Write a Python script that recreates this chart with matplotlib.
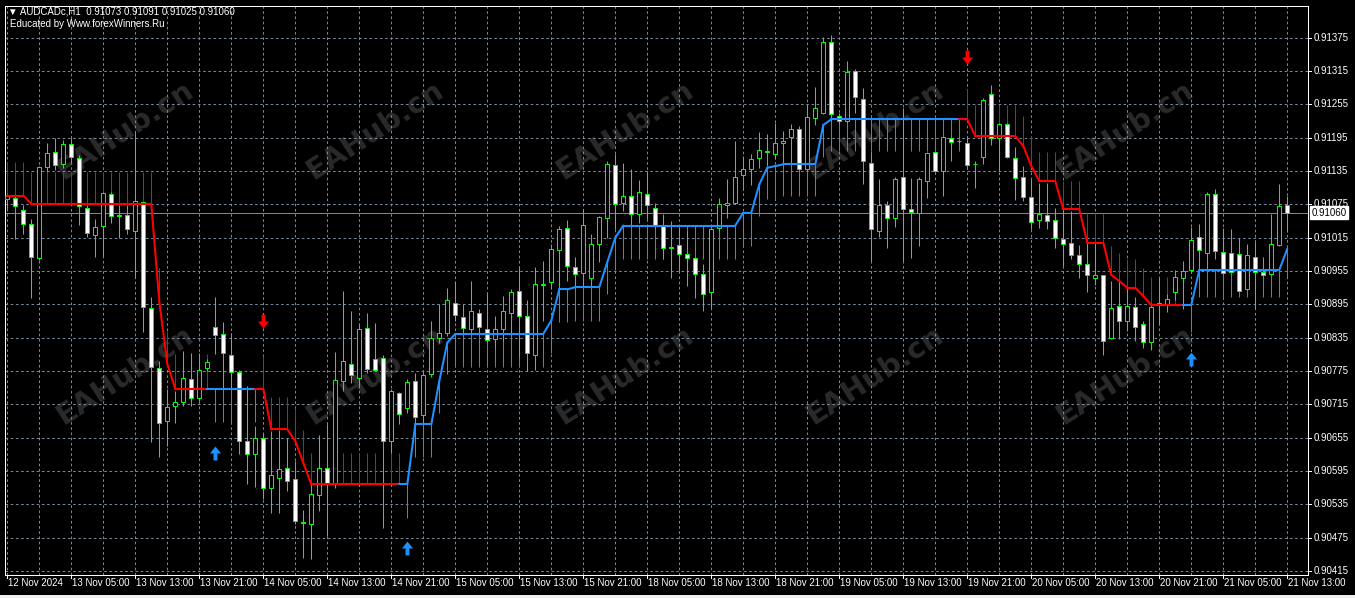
import matplotlib
matplotlib.use('Agg')
import matplotlib.pyplot as plt
import numpy as np
from matplotlib.patches import Rectangle
from matplotlib.path import Path
from matplotlib.collections import LineCollection
from matplotlib.transforms import blended_transform_factory

# ---------------- data ----------------
header_line = "\u25BC AUDCADc,H1  0.91073 0.91091 0.91025 0.91060"
educated_line = "Educated by Www.forexWinners.Ru"
watermark = "EAHub.cn"

opens = [
    0.91085, 0.91087, 0.91065, 0.91040, 0.90978, 0.91142, 0.91170, 0.91148, 0.91184, 0.91158,
    0.91068, 0.91020, 0.91036, 0.91094, 0.91056, 0.91056, 0.91028, 0.91079, 0.90888, 0.90780,
    0.90686, 0.90713, 0.90719, 0.90760, 0.90727, 0.90780, 0.90855, 0.90841, 0.90803, 0.90774,
    0.90650, 0.90626, 0.90654, 0.90564, 0.90583, 0.90600, 0.90580, 0.90503, 0.90499, 0.90552,
    0.90600, 0.90573, 0.90757, 0.90788, 0.90763, 0.90853, 0.90796, 0.90799, 0.90650, 0.90736,
    0.90708, 0.90757, 0.90695, 0.90769, 0.90834, 0.90843, 0.90898, 0.90873, 0.90850, 0.90880,
    0.90851, 0.90832, 0.90851, 0.90879, 0.90919, 0.90875, 0.90804, 0.90930, 0.90935, 0.90993,
    0.91033, 0.90962, 0.90951, 0.90943, 0.91004, 0.91051, 0.91146, 0.91078, 0.91090, 0.91057,
    0.91094, 0.91068, 0.91036, 0.90999, 0.91001, 0.90985, 0.90978, 0.90949, 0.90918, 0.91032,
    0.91073, 0.91078, 0.91127, 0.91138, 0.91158, 0.91170, 0.91166, 0.91185, 0.91197, 0.91211,
    0.91138, 0.91231, 0.91240, 0.91368, 0.91234, 0.91225, 0.91316, 0.91264, 0.91150, 0.91028,
    0.91074, 0.91051, 0.91125, 0.91067, 0.91059, 0.91118, 0.91170, 0.91136, 0.91195, 0.91189,
    0.91186, 0.91147, 0.91160, 0.91273, 0.91195, 0.91220, 0.91159, 0.91125, 0.91089, 0.91046,
    0.91055, 0.91046, 0.91012, 0.91005, 0.90984, 0.90967, 0.90943, 0.90947, 0.90834, 0.90892,
    0.90865, 0.90891, 0.90859, 0.90827, 0.90895, 0.90895, 0.90917, 0.90943, 0.90957, 0.91016,
    0.90988, 0.91094, 0.90989, 0.90987, 0.90985, 0.90923, 0.90980, 0.90953, 0.90950, 0.91002,
    0.91073]
highs = [
    0.91094, 0.91090, 0.91074, 0.91049, 0.91145, 0.91186, 0.91195, 0.91190, 0.91195, 0.91164,
    0.91074, 0.91049, 0.91098, 0.91098, 0.91074, 0.91074, 0.91206, 0.91080, 0.90909, 0.90793,
    0.90742, 0.90740, 0.90811, 0.90808, 0.90808, 0.90796, 0.90908, 0.90863, 0.90843, 0.90777,
    0.90749, 0.90676, 0.90661, 0.90667, 0.90668, 0.90655, 0.90613, 0.90524, 0.90571, 0.90660,
    0.90679, 0.90809, 0.90919, 0.90883, 0.90859, 0.90879, 0.90861, 0.90804, 0.90742, 0.90738,
    0.90760, 0.90772, 0.90775, 0.90865, 0.90895, 0.90924, 0.90937, 0.90895, 0.90938, 0.90886,
    0.90914, 0.90874, 0.90911, 0.90923, 0.90962, 0.90902, 0.90962, 0.90973, 0.91004, 0.91037,
    0.91046, 0.90981, 0.91067, 0.91021, 0.91055, 0.91153, 0.91166, 0.91149, 0.91139, 0.91119,
    0.91135, 0.91078, 0.91058, 0.91045, 0.91033, 0.91027, 0.90981, 0.90967, 0.91033, 0.91086,
    0.91120, 0.91189, 0.91162, 0.91165, 0.91205, 0.91201, 0.91221, 0.91207, 0.91219, 0.91216,
    0.91255, 0.91286, 0.91376, 0.91380, 0.91240, 0.91333, 0.91319, 0.91284, 0.91168, 0.91120,
    0.91082, 0.91125, 0.91249, 0.91122, 0.91125, 0.91170, 0.91172, 0.91197, 0.91196, 0.91191,
    0.91196, 0.91153, 0.91266, 0.91290, 0.91222, 0.91222, 0.91178, 0.91144, 0.91120, 0.91114,
    0.91114, 0.91069, 0.91066, 0.91063, 0.91002, 0.91005, 0.91006, 0.90948, 0.90938, 0.90937,
    0.90925, 0.90908, 0.90865, 0.90896, 0.90944, 0.90914, 0.90957, 0.90974, 0.91035, 0.91039,
    0.91097, 0.91103, 0.91033, 0.91031, 0.91014, 0.91004, 0.91007, 0.90980, 0.91058, 0.91111,
    0.91091]
lows = [
    0.91066, 0.91013, 0.91021, 0.90906, 0.90975, 0.91134, 0.91137, 0.91140, 0.91152, 0.91038,
    0.91017, 0.90981, 0.90982, 0.91041, 0.91015, 0.91021, 0.90942, 0.90845, 0.90647, 0.90621,
    0.90640, 0.90682, 0.90712, 0.90712, 0.90721, 0.90775, 0.90805, 0.90745, 0.90745, 0.90626,
    0.90572, 0.90566, 0.90544, 0.90520, 0.90520, 0.90560, 0.90500, 0.90439, 0.90436, 0.90523,
    0.90478, 0.90564, 0.90740, 0.90754, 0.90748, 0.90772, 0.90775, 0.90493, 0.90628, 0.90679,
    0.90700, 0.90679, 0.90680, 0.90764, 0.90826, 0.90838, 0.90865, 0.90841, 0.90841, 0.90841,
    0.90828, 0.90817, 0.90830, 0.90842, 0.90800, 0.90776, 0.90777, 0.90865, 0.90923, 0.90923,
    0.90938, 0.90926, 0.90926, 0.90926, 0.90971, 0.91015, 0.91031, 0.91063, 0.91037, 0.91041,
    0.91049, 0.91033, 0.90976, 0.90943, 0.90955, 0.90928, 0.90907, 0.90884, 0.90889, 0.91027,
    0.91051, 0.91075, 0.91100, 0.91110, 0.91141, 0.91144, 0.91156, 0.91147, 0.91150, 0.91136,
    0.91136, 0.91218, 0.91237, 0.91226, 0.91219, 0.91222, 0.91240, 0.91111, 0.90973, 0.91016,
    0.90997, 0.91034, 0.90974, 0.90979, 0.91000, 0.91087, 0.91134, 0.91090, 0.91153, 0.91186,
    0.91140, 0.91105, 0.91148, 0.91182, 0.91135, 0.91158, 0.91083, 0.91082, 0.91030, 0.91032,
    0.91030, 0.90997, 0.90964, 0.90976, 0.90942, 0.90918, 0.90930, 0.90804, 0.90833, 0.90832,
    0.90847, 0.90830, 0.90817, 0.90812, 0.90860, 0.90881, 0.90902, 0.90887, 0.90954, 0.90957,
    0.90957, 0.90977, 0.90950, 0.90953, 0.90919, 0.90921, 0.90889, 0.90947, 0.90949, 0.91001,
    0.91025]
closes = [
    0.91090, 0.91072, 0.91040, 0.90980, 0.91142, 0.91168, 0.91146, 0.91183, 0.91160, 0.91072,
    0.91024, 0.91034, 0.91096, 0.91054, 0.91054, 0.91031, 0.91081, 0.90890, 0.90782, 0.90682,
    0.90710, 0.90719, 0.90763, 0.90726, 0.90777, 0.90791, 0.90839, 0.90807, 0.90774, 0.90650,
    0.90626, 0.90654, 0.90565, 0.90588, 0.90598, 0.90578, 0.90505, 0.90502, 0.90553, 0.90600,
    0.90574, 0.90758, 0.90793, 0.90768, 0.90850, 0.90779, 0.90777, 0.90649, 0.90739, 0.90697,
    0.90755, 0.90693, 0.90767, 0.90835, 0.90844, 0.90902, 0.90876, 0.90853, 0.90884, 0.90855,
    0.90831, 0.90851, 0.90883, 0.90917, 0.90875, 0.90807, 0.90931, 0.90932, 0.90995, 0.91031,
    0.90964, 0.90950, 0.91038, 0.91004, 0.91053, 0.91148, 0.91076, 0.91090, 0.91057, 0.91097,
    0.91073, 0.91037, 0.90996, 0.90996, 0.90986, 0.90979, 0.90950, 0.90914, 0.91030, 0.91075,
    0.91077, 0.91124, 0.91138, 0.91156, 0.91173, 0.91171, 0.91186, 0.91189, 0.91211, 0.91138,
    0.91233, 0.91248, 0.91367, 0.91237, 0.91225, 0.91314, 0.91268, 0.91153, 0.91030, 0.91074,
    0.91050, 0.91120, 0.91066, 0.91062, 0.91120, 0.91168, 0.91136, 0.91196, 0.91187, 0.91189,
    0.91146, 0.91147, 0.91262, 0.91195, 0.91220, 0.91160, 0.91123, 0.91089, 0.91044, 0.91057,
    0.91045, 0.91014, 0.91004, 0.90983, 0.90968, 0.90948, 0.90948, 0.90830, 0.90889, 0.90865,
    0.90892, 0.90854, 0.90827, 0.90890, 0.90898, 0.90905, 0.90944, 0.90955, 0.91011, 0.90993,
    0.91094, 0.90992, 0.90951, 0.90954, 0.90920, 0.90984, 0.90953, 0.90948, 0.91004, 0.91072,
    0.91060]

# HalfTrend-style indicator: main line, channel end, trend (1 = down/red, 0 = up/blue)
ht_line = [
    0.91091, 0.91091, 0.91091, 0.91076, 0.91076, 0.91076, 0.91076, 0.91076, 0.91076, 0.91076,
    0.91076, 0.91076, 0.91076, 0.91076, 0.91076, 0.91076, 0.91076, 0.91076, 0.91076, 0.90900,
    0.90788, 0.90743, 0.90743, 0.90743, 0.90743, 0.90743, 0.90743, 0.90743, 0.90743, 0.90743,
    0.90743, 0.90743, 0.90743, 0.90670, 0.90670, 0.90670, 0.90649, 0.90610, 0.90571, 0.90571,
    0.90571, 0.90571, 0.90571, 0.90571, 0.90571, 0.90571, 0.90571, 0.90571, 0.90571, 0.90571,
    0.90571, 0.90679, 0.90679, 0.90679, 0.90757, 0.90826, 0.90842, 0.90842, 0.90842, 0.90842,
    0.90842, 0.90842, 0.90842, 0.90842, 0.90842, 0.90842, 0.90842, 0.90842, 0.90866, 0.90922,
    0.90922, 0.90926, 0.90926, 0.90926, 0.90926, 0.90971, 0.91015, 0.91037, 0.91037, 0.91037,
    0.91037, 0.91037, 0.91037, 0.91037, 0.91037, 0.91037, 0.91037, 0.91037, 0.91037, 0.91037,
    0.91037, 0.91037, 0.91060, 0.91060, 0.91111, 0.91141, 0.91144, 0.91147, 0.91147, 0.91147,
    0.91147, 0.91147, 0.91218, 0.91228, 0.91228, 0.91228, 0.91228, 0.91228, 0.91228, 0.91228,
    0.91228, 0.91228, 0.91228, 0.91228, 0.91228, 0.91228, 0.91228, 0.91228, 0.91228, 0.91228,
    0.91228, 0.91198, 0.91198, 0.91198, 0.91198, 0.91198, 0.91198, 0.91180, 0.91144, 0.91117,
    0.91117, 0.91117, 0.91066, 0.91066, 0.91066, 0.91006, 0.91006, 0.91006, 0.90948, 0.90937,
    0.90925, 0.90925, 0.90910, 0.90894, 0.90894, 0.90894, 0.90894, 0.90894, 0.90894, 0.90957,
    0.90957, 0.90957, 0.90957, 0.90957, 0.90957, 0.90957, 0.90957, 0.90957, 0.90957, 0.90957,
    0.90995]
ht_band = [
    0.91152, 0.91152, 0.91152, 0.91134, 0.91134, 0.91134, 0.91134, 0.91134, 0.91134, 0.91134,
    0.91134, 0.91134, 0.91134, 0.91134, 0.91134, 0.91134, 0.91134, 0.91134, 0.91134, 0.90960,
    0.90848, 0.90805, 0.90805, 0.90805, 0.90805, 0.90805, 0.90684, 0.90684, 0.90684, 0.90684,
    0.90684, 0.90684, 0.90802, 0.90728, 0.90728, 0.90728, 0.90709, 0.90668, 0.90628, 0.90628,
    0.90628, 0.90628, 0.90628, 0.90628, 0.90628, 0.90628, 0.90628, 0.90628, 0.90628, 0.90628,
    0.90511, 0.90620, 0.90620, 0.90620, 0.90699, 0.90769, 0.90782, 0.90782, 0.90782, 0.90782,
    0.90782, 0.90782, 0.90782, 0.90782, 0.90782, 0.90782, 0.90782, 0.90782, 0.90807, 0.90863,
    0.90863, 0.90866, 0.90866, 0.90866, 0.90866, 0.90913, 0.90957, 0.90977, 0.90977, 0.90977,
    0.90977, 0.90977, 0.90977, 0.90977, 0.90977, 0.90977, 0.90977, 0.90977, 0.90977, 0.90977,
    0.90977, 0.90977, 0.91000, 0.91000, 0.91054, 0.91084, 0.91087, 0.91090, 0.91090, 0.91090,
    0.91090, 0.91090, 0.91161, 0.91171, 0.91171, 0.91171, 0.91171, 0.91171, 0.91171, 0.91171,
    0.91171, 0.91171, 0.91171, 0.91171, 0.91171, 0.91171, 0.91171, 0.91171, 0.91171, 0.91171,
    0.91282, 0.91254, 0.91254, 0.91254, 0.91254, 0.91254, 0.91254, 0.91235, 0.91198, 0.91169,
    0.91169, 0.91169, 0.91118, 0.91118, 0.91118, 0.91060, 0.91060, 0.91060, 0.91000, 0.90988,
    0.90976, 0.90976, 0.90960, 0.90944, 0.90944, 0.90944, 0.90944, 0.90944, 0.90845, 0.90908,
    0.90908, 0.90908, 0.90908, 0.90908, 0.90908, 0.90908, 0.90908, 0.90908, 0.90908, 0.90908,
    0.90944]
ht_trend = [
    1, 1, 1, 1, 1, 1, 1, 1, 1, 1, 1, 1, 1, 1, 1, 1, 1, 1, 1, 1,
    1, 1, 1, 1, 1, 1, 0, 0, 0, 0, 0, 0, 1, 1, 1, 1, 1, 1, 1, 1,
    1, 1, 1, 1, 1, 1, 1, 1, 1, 1, 0, 0, 0, 0, 0, 0, 0, 0, 0, 0,
    0, 0, 0, 0, 0, 0, 0, 0, 0, 0, 0, 0, 0, 0, 0, 0, 0, 0, 0, 0,
    0, 0, 0, 0, 0, 0, 0, 0, 0, 0, 0, 0, 0, 0, 0, 0, 0, 0, 0, 0,
    0, 0, 0, 0, 0, 0, 0, 0, 0, 0, 0, 0, 0, 0, 0, 0, 0, 0, 0, 0,
    1, 1, 1, 1, 1, 1, 1, 1, 1, 1, 1, 1, 1, 1, 1, 1, 1, 1, 1, 1,
    1, 1, 1, 1, 1, 1, 1, 1, 0, 0, 0, 0, 0, 0, 0, 0, 0, 0, 0, 0,
    0]

up_arrow_bars = [26, 50, 148]
up_arrow_prices = [0.90627, 0.90456, 0.90796]
dn_arrow_bars = [32, 120]
dn_arrow_prices = [0.90866, 0.91341]

time_label_bars = [0, 8, 16, 24, 32, 40, 48, 56, 64, 72, 80, 88, 96, 104, 112, 120, 128,
                   136, 144, 152, 160]
time_labels = ["12 Nov 2024", "13 Nov 05:00", "13 Nov 13:00", "13 Nov 21:00",
               "14 Nov 05:00", "14 Nov 13:00", "14 Nov 21:00", "15 Nov 05:00",
               "15 Nov 13:00", "15 Nov 21:00", "18 Nov 05:00", "18 Nov 13:00",
               "18 Nov 21:00", "19 Nov 05:00", "19 Nov 13:00", "19 Nov 21:00",
               "20 Nov 05:00", "20 Nov 13:00", "20 Nov 21:00", "21 Nov 05:00",
               "21 Nov 13:00"]
grid_bars = [0, 4, 8, 12, 16, 20, 24, 28, 32, 36, 40, 44, 48, 52, 56, 60, 64, 68, 72, 76,
             80, 84, 88, 92, 96, 100, 104, 108, 112, 116, 120, 124, 128, 132, 136, 140,
             144, 148, 152, 156, 160]
price_ticks = [0.91375, 0.91315, 0.91255, 0.91195, 0.91135, 0.91075, 0.91015, 0.90955,
               0.90895, 0.90835, 0.90775, 0.90715, 0.90655, 0.90595, 0.90535, 0.90475,
               0.90415]
current_price = 0.91060

# ---------------- style ----------------
FAM = ['Liberation Sans', 'DejaVu Sans']
GRID = '#778899'
CANDLE = '#00FF00'
RED = '#FF0000'
BLUE = '#1E90FF'
PX = 0.72  # one pixel in points at dpi 100

W, H = 1355, 598
fig = plt.figure(figsize=(W / 100, H / 100), dpi=100, facecolor='black')
L, R, T, B = 5.5, 1307.5, 5.5, 574.5
ax = fig.add_axes([L / W, 1 - B / H, (R - L) / W, (B - T) / H])
ax.set_facecolor('black')
ax.set_xlim((L - 7.3) / 8.0, (R - 7.3) / 8.0)
ax.set_ylim(0.904088, 0.914330)
ax.set_xticks([])
ax.set_yticks([])
for s in ax.spines.values():
    s.set_color('white')
    s.set_linewidth(PX)

n = len(opens)
xs = np.arange(n)
o = np.array(opens); h = np.array(highs); l = np.array(lows); c = np.array(closes)
line = np.array(ht_line); band = np.array(ht_band); tr = np.array(ht_trend)

# grid
x0, x1 = ax.get_xlim()
y0, y1 = ax.get_ylim()
ax.hlines(price_ticks, x0, x1, colors=GRID, linewidth=PX, linestyles=(0, (2.6, 2.6)), zorder=1)
ax.vlines(grid_bars, y0, y1, colors=GRID, linewidth=PX, linestyles=(0, (2.6, 2.6)), zorder=1)
ax.axhline(current_price, color=GRID, linewidth=PX, zorder=1.5)

# watermarks (inside the chart area)
for cy in (130, 375):
    for cx in (125, 375, 625, 875, 1125):
        ax.text(cx / W, 1 - cy / H, watermark, transform=fig.transFigure, rotation=33,
                ha='center', va='center', fontsize=21, fontweight='bold',
                family='DejaVu Sans', color='#2a2a2a', zorder=0.8)

# indicator channel histogram
hist_cols = [RED if t == 1 else BLUE for t in tr]
ax.vlines(xs, line, band, colors=hist_cols, linewidth=PX, zorder=2)

# candles
ax.vlines(xs, l, h, colors=CANDLE, linewidth=PX, zorder=3)
for i in range(n):
    bottom = min(o[i], c[i])
    height = abs(c[i] - o[i])
    face = 'white' if c[i] < o[i] else 'black'
    ax.add_patch(Rectangle((i - 0.25, bottom), 0.5, height, facecolor=face,
                           edgecolor=CANDLE, linewidth=PX, zorder=4))

# indicator line
segs = [[(i - 1, line[i - 1]), (i, line[i])] for i in range(1, n)]
seg_cols = [RED if tr[i] == 1 else BLUE for i in range(1, n)]
ax.add_collection(LineCollection(segs, colors=seg_cols, linewidths=1.5, zorder=5,
                                 capstyle='round'))

# arrows
up_path = Path([(0, 0.5), (0.4, 0.0), (0.14, 0.0), (0.14, -0.5), (-0.14, -0.5),
                (-0.14, 0.0), (-0.4, 0.0), (0, 0.5)],
               [Path.MOVETO] + [Path.LINETO] * 6 + [Path.CLOSEPOLY])
dn_path = Path([(x, -y) for x, y in up_path.vertices], up_path.codes)
ax.plot(up_arrow_bars, up_arrow_prices, ls='none', marker=up_path, ms=10,
        color=BLUE, mew=0, zorder=6)
ax.plot(dn_arrow_bars, dn_arrow_prices, ls='none', marker=dn_path, ms=10,
        color=RED, mew=0, zorder=6)

# right price scale
trR = blended_transform_factory(ax.transAxes, ax.transData)
for p in price_ticks:
    ax.text(1.0 + 6 / (R - L), p, f"{p:.5f}", transform=trR, ha='left', va='center',
            fontsize=7, color='white', family=FAM, clip_on=False)
    ax.plot([1.0, 1.0 + 3 / (R - L)], [p, p], transform=trR, color='white',
            lw=PX, clip_on=False)
ax.text(1.0 + 4 / (R - L), current_price, f"{current_price:.5f}", transform=trR,
        ha='left', va='center', fontsize=7, color='black', family=FAM, clip_on=False,
        bbox=dict(boxstyle='square,pad=0.18', fc='white', ec='white'), zorder=10)

# bottom time scale
trB = blended_transform_factory(ax.transData, ax.transAxes)
for b, lab in zip(time_label_bars, time_labels):
    ax.plot([b, b], [0, -3 / (B - T)], transform=trB, color='white', lw=PX, clip_on=False)
    ax.text(b + 0.05, -9 / (B - T), lab, transform=trB, ha='left', va='center',
            fontsize=7, color='white', family=FAM, clip_on=False)

# header texts
fig.text(8 / W, 1 - 11 / H, header_line, color='white', fontsize=7, family=FAM,
         ha='left', va='center')
fig.text(10 / W, 1 - 24 / H, educated_line, color='white', fontsize=7, family=FAM,
         ha='left', va='center')

# bottom window strip
fig.patches.append(Rectangle((0, 0), 1, 3 / H, transform=fig.transFigure,
                             facecolor='#f0f0f0', edgecolor='none'))

fig.savefig('out.png', dpi=100, facecolor='black')
